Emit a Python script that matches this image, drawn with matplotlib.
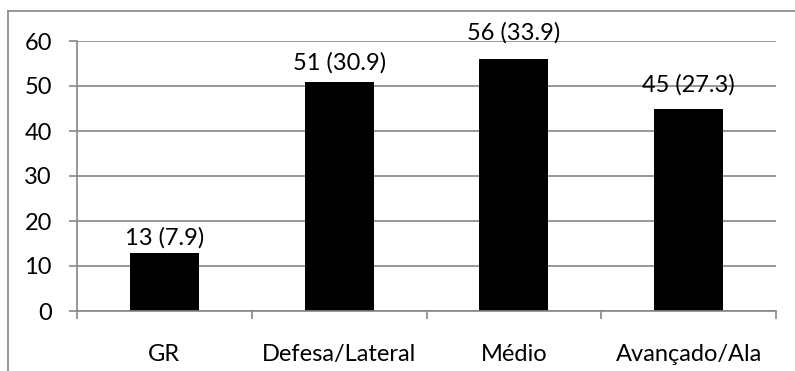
import matplotlib.pyplot as plt
from matplotlib.lines import Line2D

# data
categories = ["GR", "Defesa/Lateral", "Médio", "Avançado/Ala"]
counts = [13, 51, 56, 45]
percents = [7.9, 30.9, 33.9, 27.3]

GRID = "#868686"
FS = 17
plt.rcParams['font.family'] = ['Lato', 'DejaVu Sans']

fig = plt.figure(figsize=(7.95, 3.71), dpi=100)
ax = fig.add_axes([77/795, 1 - 311/371, 699/795, 270/371])

x = range(len(categories))
bars = ax.bar(x, counts, width=0.395, color="black", zorder=2)

# label gaps (points) above each bar, as placed in the original
label_pad = [2.5, 5.5, 11, 9.5]
for b, c, p, pad in zip(bars, counts, percents, label_pad):
    ax.annotate(f"{c} ({p})", (b.get_x() + b.get_width() / 2, b.get_height()),
                xytext=(0, pad), textcoords="offset points",
                ha="center", va="bottom", fontsize=FS, zorder=3)

ax.set_xlim(-0.5, len(categories) - 0.5)
ax.set_ylim(0, 60)
ax.set_yticks(range(0, 61, 10))
ax.yaxis.grid(True, color=GRID, linewidth=1.2, zorder=0)
ax.set_axisbelow(True)

# category labels centered, ticks at category boundaries
ax.set_xticks([i - 0.5 for i in range(len(categories) + 1)])
ax.set_xticklabels([])
ax.set_xticks(list(x), minor=True)
ax.set_xticklabels(categories, minor=True, fontsize=FS)
ax.tick_params(axis="x", which="major", length=5.5, width=1.2, color=GRID, direction="out")
ax.tick_params(axis="x", which="minor", length=0, pad=24)
ax.tick_params(axis="y", length=6, width=1.2, color=GRID, labelsize=FS, pad=12)

for s in ["top", "right"]:
    ax.spines[s].set_visible(False)
for s in ["left", "bottom"]:
    ax.spines[s].set_color(GRID)
    ax.spines[s].set_linewidth(1.2)

# outer chart frame (only left and top edges visible)
fig.add_artist(Line2D([8/795, 8/795], [0, 1 - 11/371], transform=fig.transFigure,
                      color=GRID, linewidth=1.2))
fig.add_artist(Line2D([8/795, 1], [1 - 11/371, 1 - 11/371], transform=fig.transFigure,
                      color=GRID, linewidth=1.2))

fig.savefig("out.png", dpi=100)
